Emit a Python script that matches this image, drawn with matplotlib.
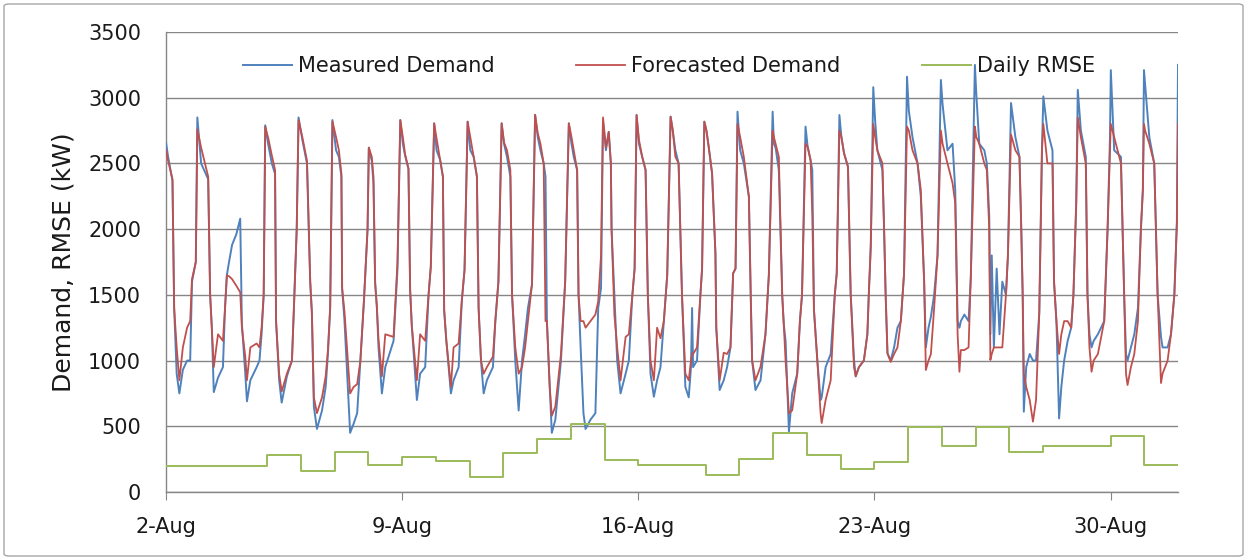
import matplotlib.pyplot as plt
from matplotlib.patches import FancyBboxPatch

# x axis runs in days from 2-Aug 00:00
tick_days = [0, 7, 14, 21, 28]
tick_labels = ['2-Aug', '9-Aug', '16-Aug', '23-Aug', '30-Aug']

# hour of day of each reading, one row per day (2-Aug .. 31-Aug)
hours = [
    [0.0, 1.5, 4.6, 5.8, 7.6, 9.5, 12.0, 15.0, 17.2, 18.5, 21.2, 22.3],
    [1.0, 6.0, 7.4, 8.6, 10.0, 13.0, 16.5, 18.0, 19.3, 21.0, 23.0],
    [2.0, 4.8, 6.0, 8.4, 9.6, 12.0, 16.5, 18.5, 20.0, 21.5, 22.6],
    [0.8, 3.3, 5.6, 6.3, 8.5, 10.3, 14.0, 17.6, 19.0, 21.0, 22.3],
    [1.0, 4.3, 6.6, 7.8, 9.2, 11.4, 15.0, 17.6, 19.2, 20.8, 22.4],
    [1.0, 3.0, 4.8, 5.3, 7.0, 11.0, 13.5, 16.0, 18.3, 20.8, 23.4],
    [0.3, 2.4, 3.6, 4.8, 6.0, 7.2, 9.6, 12.0, 17.9, 20.7, 22.7],
    [0.5, 2.1, 4.5, 5.7, 6.9, 10.5, 12.8, 16.4, 18.8, 20.4, 22.8],
    [0.5, 3.1, 5.0, 5.9, 7.4, 10.7, 12.6, 16.2, 18.5, 20.4, 22.6],
    [0.5, 2.9, 5.2, 6.4, 8.1, 10.0, 12.3, 16.6, 18.3, 20.5, 22.8],
    [0.5, 2.6, 5.0, 6.2, 8.5, 10.9, 13.3, 15.5, 17.5, 20.4, 22.6],
    [0.5, 2.4, 4.7, 6.0, 7.0, 9.0, 10.5, 13.0, 17.0, 20.0, 22.6],
    [0.5, 2.1, 4.5, 5.5, 7.0, 9.0, 10.5, 14.0, 17.5, 19.5, 21.5, 22.9],
    [1.0, 3.0, 4.5, 5.0, 7.0, 9.0, 11.4, 15.0, 17.3, 19.7, 21.4, 22.8],
    [0.5, 2.8, 5.2, 6.8, 8.7, 11.1, 13.4, 15.8, 18.2, 20.6, 23.0],
    [0.5, 2.4, 4.7, 7.1, 9.5, 11.9, 13.5, 14.3, 15.0, 17.8, 20.2, 21.4, 23.0],
    [0.5, 2.1, 4.5, 6.9, 7.5, 9.9, 12.8, 15.2, 17.6, 19.5, 21.2, 22.6],
    [0.5, 3.1, 6.7, 8.0, 9.0, 11.4, 15.0, 18.5, 20.9, 23.6],
    [0.5, 1.7, 4.0, 6.4, 7.5, 8.8, 11.2, 13.5, 17.1, 19.0, 20.5, 23.0],
    [0.5, 2.6, 3.8, 5.0, 7.4, 9.7, 10.5, 13.3, 16.9, 19.8, 21.2, 23.1],
    [0.5, 2.4, 5.2, 7.1, 9.5, 10.7, 13.0, 16.5, 19.0, 20.0, 21.4, 23.2],
    [0.5, 2.1, 5.7, 6.9, 8.0, 9.3, 11.6, 14.0, 16.4, 18.8, 21.1, 23.2],
    [0.5, 3.1, 6.7, 9.0, 11.4, 12.6, 14.5, 16.2, 18.5, 20.9, 23.3],
    [0.5, 4.0, 7.6, 9.5, 11.2, 12.5, 13.5, 16.0, 19.0, 20.6, 23.5],
    [0.5, 2.6, 6.2, 8.0, 9.7, 10.5, 11.5, 13.0, 15.0, 17.0, 19.0, 21.6, 23.0],
    [1.2, 4.3, 7.2, 8.5, 9.5, 10.3, 12.0, 14.5, 16.8, 19.0, 21.3, 23.2],
    [0.2, 3.1, 6.7, 7.8, 9.5, 11.4, 13.0, 15.0, 17.5, 20.0, 21.6, 23.6],
    [0.7, 2.9, 6.4, 7.6, 9.0, 10.5, 12.0, 15.0, 19.5, 21.9, 23.6],
    [0.2, 2.6, 7.4, 9.7, 11.0, 12.1, 14.5, 16.9, 19.5, 21.6, 23.0, 23.8],
    [0.6, 3.6, 7.1, 9.5, 11.9, 13.0, 16.6, 19.0, 21.4, 23.2, 24.0],
]

measured = [
    [2660, 2550, 2370, 1400, 900, 750, 930, 1000, 1000, 1600, 1750, 2850],
    [2500, 2380, 1500, 1250, 760, 870, 950, 1400, 1650, 1760, 1880],
    [1960, 2080, 1280, 900, 690, 850, 950, 1000, 1200, 1500, 2790],
    [2640, 2500, 2420, 1300, 850, 680, 880, 1000, 1400, 2000, 2850],
    [2680, 2500, 1600, 1350, 650, 480, 620, 800, 1050, 1400, 2830],
    [2600, 2550, 2400, 1550, 1300, 450, 520, 600, 1000, 1450, 2000],
    [2620, 2520, 2350, 1590, 1410, 1100, 750, 950, 1150, 1700, 2830],
    [2650, 2560, 2460, 1535, 1260, 700, 900, 950, 1500, 1715, 2805],
    [2600, 2525, 2400, 1385, 1157, 750, 850, 950, 1460, 1690, 2818],
    [2600, 2550, 2400, 1400, 1000, 750, 850, 950, 1300, 1600, 2805],
    [2650, 2550, 2400, 1500, 1000, 620, 1000, 1200, 1400, 1580, 2870],
    [2700, 2600, 2500, 2400, 1300, 800, 450, 550, 1000, 1600, 2805],
    [2650, 2550, 2450, 1500, 1100, 600, 480, 550, 600, 1400, 1550, 2820],
    [2600, 2740, 2500, 2000, 1500, 1000, 750, 900, 1000, 1485, 1700, 2868],
    [2650, 2550, 2450, 1500, 900, 725, 850, 950, 1300, 1650, 2856],
    [2754, 2600, 2500, 1500, 800, 720, 950, 1400, 950, 1000, 1500, 1700, 2818],
    [2750, 2627, 2425, 1815, 1250, 776, 850, 950, 1100, 1664, 1700, 2894],
    [2600, 2500, 2247, 1500, 1000, 776, 850, 1200, 1650, 2894],
    [2650, 2620, 2450, 1500, 1280, 1150, 460, 750, 900, 1300, 1500, 2780],
    [2627, 2525, 2450, 1385, 1000, 700, 720, 950, 1050, 1500, 1663, 2868],
    [2703, 2577, 2475, 1511, 1004, 880, 950, 1000, 1200, 1500, 1866, 3080],
    [2830, 2600, 2450, 2000, 1500, 1055, 1000, 1100, 1250, 1300, 1663, 3160],
    [2900, 2700, 2500, 2250, 1600, 1100, 1250, 1334, 1500, 1800, 3135],
    [2950, 2600, 2650, 2300, 1300, 1250, 1300, 1350, 1300, 1640, 3250],
    [3030, 2650, 2600, 2500, 2100, 1200, 1800, 1100, 1700, 1200, 1600, 1500, 1800],
    [2960, 2700, 2550, 2000, 1500, 611, 950, 1050, 1000, 1000, 1360, 2600],
    [3010, 2750, 2600, 1600, 1300, 560, 800, 1000, 1150, 1250, 1500, 2200],
    [3060, 2750, 2550, 1500, 1200, 1100, 1150, 1200, 1300, 2000, 2700],
    [3210, 2600, 2550, 1500, 1050, 1000, 1100, 1200, 1400, 2000, 2300, 3210],
    [3100, 2700, 2500, 1500, 1180, 1100, 1100, 1200, 1500, 2050, 3250],
]

forecast = [
    [2600, 2520, 2380, 1400, 1100, 850, 1100, 1250, 1300, 1620, 1750, 2760],
    [2620, 2400, 1500, 1250, 950, 1200, 1150, 1400, 1650, 1640, 1620],
    [1570, 1520, 1250, 1030, 850, 1100, 1130, 1100, 1250, 1500, 2780],
    [2690, 2560, 2450, 1300, 900, 765, 900, 1000, 1400, 2000, 2830],
    [2700, 2520, 1600, 1370, 720, 600, 720, 880, 1080, 1400, 2820],
    [2700, 2600, 2420, 1550, 1370, 750, 800, 820, 1000, 1450, 2000],
    [2620, 2550, 2400, 1590, 1410, 1160, 880, 1200, 1180, 1750, 2830],
    [2700, 2570, 2460, 1535, 1260, 850, 1200, 1150, 1500, 1715, 2805],
    [2690, 2525, 2400, 1385, 1157, 800, 1100, 1130, 1460, 1690, 2818],
    [2700, 2550, 2400, 1400, 1000, 900, 950, 1030, 1300, 1600, 2805],
    [2660, 2600, 2450, 1500, 1100, 900, 950, 1100, 1300, 1580, 2870],
    [2730, 2650, 2500, 1300, 1300, 800, 580, 650, 1050, 1600, 2805],
    [2700, 2600, 2450, 1500, 1300, 1300, 1250, 1300, 1350, 1450, 1800, 2850],
    [2620, 2740, 2500, 2000, 1350, 1100, 850, 1180, 1200, 1485, 1700, 2868],
    [2680, 2550, 2450, 1500, 1000, 850, 1250, 1170, 1300, 1650, 2856],
    [2754, 2551, 2500, 1500, 900, 850, 1000, 1050, 1050, 1100, 1500, 1700, 2818],
    [2750, 2627, 2425, 1815, 1250, 850, 1060, 1050, 1100, 1664, 1700, 2800],
    [2700, 2550, 2247, 1500, 1000, 850, 954, 1200, 1650, 2750],
    [2700, 2650, 2550, 1500, 1280, 1000, 600, 620, 900, 1300, 1500, 2650],
    [2627, 2525, 2120, 1385, 1000, 600, 525, 700, 850, 1500, 1663, 2750],
    [2703, 2577, 2475, 1511, 950, 880, 950, 1000, 1200, 1500, 1866, 2800],
    [2703, 2600, 2500, 2000, 1500, 1055, 990, 1050, 1100, 1300, 1663, 2780],
    [2750, 2600, 2500, 2300, 1600, 928, 1000, 1050, 1400, 1800, 2750],
    [2650, 2500, 2350, 2200, 1200, 915, 1080, 1080, 1100, 1640, 2780],
    [2700, 2650, 2500, 2450, 2000, 1004, 1050, 1100, 1100, 1100, 1100, 1500, 1800],
    [2720, 2600, 2550, 2000, 1500, 900, 800, 700, 535, 700, 1360, 2600],
    [2800, 2500, 2500, 1600, 1300, 1050, 1200, 1300, 1300, 1250, 1500, 2200],
    [2850, 2700, 2500, 1500, 1100, 915, 1000, 1050, 1300, 2000, 2600],
    [2800, 2700, 2500, 1500, 900, 814, 950, 1050, 1300, 2000, 2300, 2800],
    [2750, 2650, 2500, 1500, 829, 900, 1000, 1200, 1500, 2050, 2800],
]

# one RMSE value per day, 2-Aug .. 31-Aug
rmse = [195, 195, 195, 282, 160, 307, 205, 268, 236, 117,
        297, 403, 517, 243, 205, 205, 129, 251, 449, 282,
        175, 231, 497, 352, 497, 307, 352, 352, 426, 205]

# flatten day rows into a single time axis (days since 2-Aug)
t = [d + h / 24.0 for d, row in enumerate(hours) for h in row]
meas = [v for row in measured for v in row]
fcst = [v for row in forecast for v in row]
rmse_days = list(range(len(rmse) + 1))
rmse_steps = rmse + [rmse[-1]]

W, H = 1247, 560
fig = plt.figure(figsize=(W / 100, H / 100), dpi=100)
ax = fig.add_axes([166 / W, 68 / H, 1012 / W, 460 / H])

ax.plot(t, meas, color='#4F81BD', lw=1.4, label='Measured Demand', zorder=3)
ax.plot(t, fcst, color='#C0504D', lw=1.3, label='Forecasted Demand', zorder=4)
ax.step(rmse_days, rmse_steps, where='post', color='#9BBB59', lw=1.4,
        label='Daily RMSE', zorder=5)

ax.set_xlim(0, 30)
ax.set_ylim(0, 3500)
ax.set_yticks(range(0, 3501, 500))
ax.set_xticks(tick_days)
ax.set_xticklabels(tick_labels)

ax.yaxis.grid(True, color='#868686', lw=1.0)
ax.set_axisbelow(True)
for s in ['top', 'right']:
    ax.spines[s].set_visible(False)
for s in ['left', 'bottom']:
    ax.spines[s].set_color('#868686')
    ax.spines[s].set_linewidth(1.0)

ax.tick_params(axis='x', direction='out', length=6, color='#868686',
               labelsize=15, pad=12, labelcolor='#1a1a1a')
ax.tick_params(axis='y', length=0, labelsize=15, pad=18, labelcolor='#1a1a1a')

ax.set_ylabel('Demand, RMSE (kW)', fontsize=18, color='#1a1a1a')
ax.yaxis.set_label_coords(-0.089, 0.5)

ax.legend(loc='center left', bbox_to_anchor=(243 / W, 1 - 66 / H),
          bbox_transform=fig.transFigure, ncol=3, frameon=False, fontsize=15,
          handlelength=2.35, handletextpad=0.3, columnspacing=3.9,
          borderpad=0, borderaxespad=0, labelcolor='#1a1a1a')

# thin rounded frame round the whole chart
frame = FancyBboxPatch((4 / W, 4 / H), 1239 / W, 552 / H,
                       boxstyle='round,pad=0,rounding_size=0.004',
                       transform=fig.transFigure, fill=False,
                       edgecolor='#A6A6A6', lw=1.0)
fig.patches.append(frame)

fig.savefig('out.png', dpi=100)
